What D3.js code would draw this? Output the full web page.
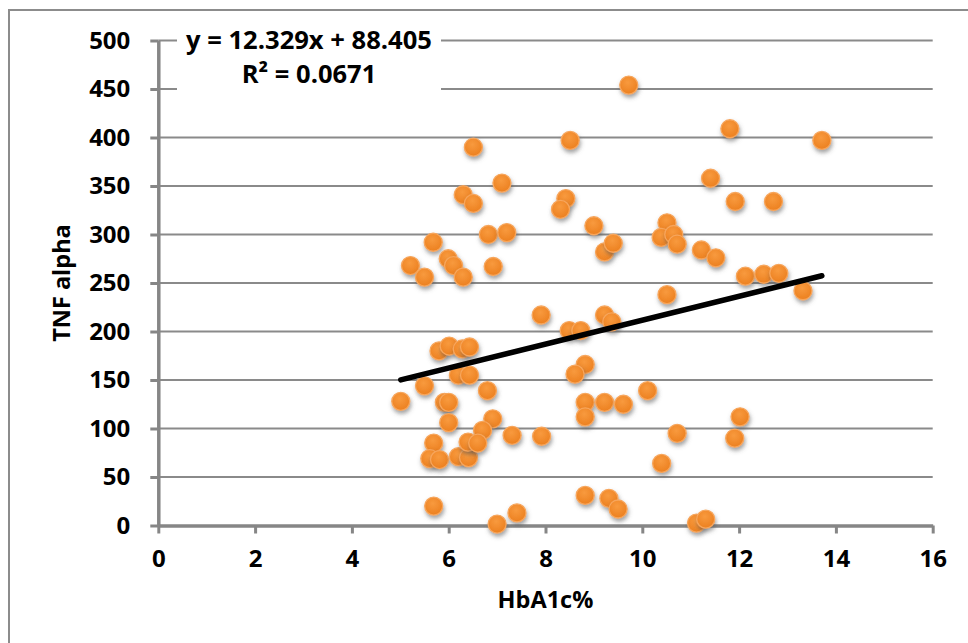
<!DOCTYPE html>
<html><head><meta charset="utf-8">
<script src="https://cdn.jsdelivr.net/npm/d3@7"></script>
<style>body{margin:0;background:#fff;}svg{display:block;}</style>
</head><body>
<script>
const hba1c = [9.72,8.51,6.51,11.81,13.71,11.41,7.10,6.30,6.51,8.42,8.31,9.00,9.22,9.40,6.82,7.20,5.68,5.21,5.50,5.99,6.10,6.30,6.92,11.92,12.71,10.51,10.39,10.65,10.72,11.22,11.52,12.13,12.51,12.82,13.32,10.51,7.91,8.49,8.73,9.22,9.37,5.80,6.01,6.28,6.43,6.20,6.43,5.50,5.01,6.80,5.91,6.00,6.00,6.91,8.82,8.61,8.82,8.82,9.22,9.61,10.11,6.70,7.31,7.92,10.72,12.02,11.91,10.40,8.82,9.31,9.50,7.00,7.41,11.12,11.31,5.69,5.61,5.81,6.20,6.41,6.40,6.60,5.69];
const tnf = [454,397,390,409,397,358,353,341,332,337,326,309,282,291,300,302,292,268,256,275,268,256,267,334,334,312,297,300,290,284,276,257,259,260,242,238,217,201,201,217,210,180,185,182,184,155,155,144,128,139,127,127,106,110,166,156,127,112,127,125,139,98,93,92,95,112,90,64,31,28,17,1.5,13,2.5,6.5,85,69,68,71,70,86,85,20];
const xTicks = [0,2,4,6,8,10,12,14,16];
const yTicks = [0,50,100,150,200,250,300,350,400,450,500];
const slope = 12.329, intercept = 88.405;
const eqText = "y = 12.329x + 88.405";
const r2Text = "R² = 0.0671";
const xTitle = "HbA1c%";
const yTitle = "TNF alpha";

const W = 968, H = 643;
const L = 158.3, R = 932.7, T = 40.5, B = 525.5;
const font = "'Open Sans', 'Liberation Sans', sans-serif";

const svg = d3.select("body").append("svg").attr("width", W).attr("height", H);
const defs = svg.append("defs");
const grad = defs.append("radialGradient").attr("id","mk").attr("cx","45%").attr("cy","35%").attr("r","65%");
grad.append("stop").attr("offset","0%").attr("stop-color","#F89A3E");
grad.append("stop").attr("offset","100%").attr("stop-color","#EC8020");
const flt = defs.append("filter").attr("id","sh").attr("x","-50%").attr("y","-50%").attr("width","200%").attr("height","200%");
flt.append("feDropShadow").attr("dx",1).attr("dy",3).attr("stdDeviation",2).attr("flood-color","#555").attr("flood-opacity",0.55);

// outer frame
svg.append("rect").attr("x",9).attr("y",10).attr("width",1000).attr("height",700)
  .attr("fill","#fff").attr("stroke","#8c8c8c").attr("stroke-width",2);

const x = d3.scaleLinear().domain([0,16]).range([L,R]);
const y = d3.scaleLinear().domain([0,500]).range([B,T]);

// gridlines
svg.append("g").selectAll("line").data(yTicks.filter(d=>d>0)).join("line")
  .attr("x1",L).attr("x2",R).attr("y1",d=>y(d)).attr("y2",d=>y(d))
  .attr("stroke","#8a8a8a").attr("stroke-width",2);

// axes
const yAxis = svg.append("g").attr("transform",`translate(${L},0)`)
  .call(d3.axisLeft(y).tickValues(yTicks).tickSize(8).tickPadding(20).tickSizeOuter(0));
const xAxis = svg.append("g").attr("transform",`translate(0,${B})`)
  .call(d3.axisBottom(x).tickValues(xTicks).tickSize(8).tickPadding(16).tickSizeOuter(0));
[xAxis,yAxis].forEach(g=>{
  g.select(".domain").attr("stroke","#868686").attr("stroke-width",3.5);
  g.selectAll(".tick line").attr("stroke","#868686").attr("stroke-width",3);
  g.selectAll("text").attr("font-family",font).attr("font-weight","bold").attr("font-size",24).attr("fill","#000");
});

// points
svg.append("g").selectAll("circle").data(hba1c.map((v,i)=>[v,tnf[i]])).join("circle")
  .attr("cx",d=>x(d[0])).attr("cy",d=>y(d[1])).attr("r",9)
  .attr("fill","url(#mk)").attr("stroke","#F7A65C").attr("stroke-width",1.3)
  .attr("filter","url(#sh)");

// trendline
const x0 = d3.min(hba1c), x1 = d3.max(hba1c);
svg.append("line").attr("x1",x(x0)).attr("y1",y(slope*x0+intercept))
  .attr("x2",x(x1)).attr("y2",y(slope*x1+intercept))
  .attr("stroke","#000").attr("stroke-width",5.5).attr("stroke-linecap","round");

// equation label
svg.append("rect").attr("x",177).attr("y",27).attr("width",264).attr("height",68).attr("fill","#fff");
svg.append("text").attr("x",309).attr("y",49).attr("text-anchor","middle")
  .attr("font-family",font).attr("font-weight","bold").attr("font-size",25.5).attr("textLength",246).attr("lengthAdjust","spacingAndGlyphs").text(eqText);
svg.append("text").attr("x",309).attr("y",83).attr("text-anchor","middle")
  .attr("font-family",font).attr("font-weight","bold").attr("font-size",25.5).text(r2Text);

// titles
svg.append("text").attr("x",(L+R)/2).attr("y",608).attr("text-anchor","middle")
  .attr("font-family",font).attr("font-weight","bold").attr("font-size",23.5).text(xTitle);
svg.append("text").attr("transform",`translate(70,${(T+B)/2}) rotate(-90)`).attr("text-anchor","middle")
  .attr("font-family",font).attr("font-weight","bold").attr("font-size",23.5).text(yTitle);
</script>
</body></html>
